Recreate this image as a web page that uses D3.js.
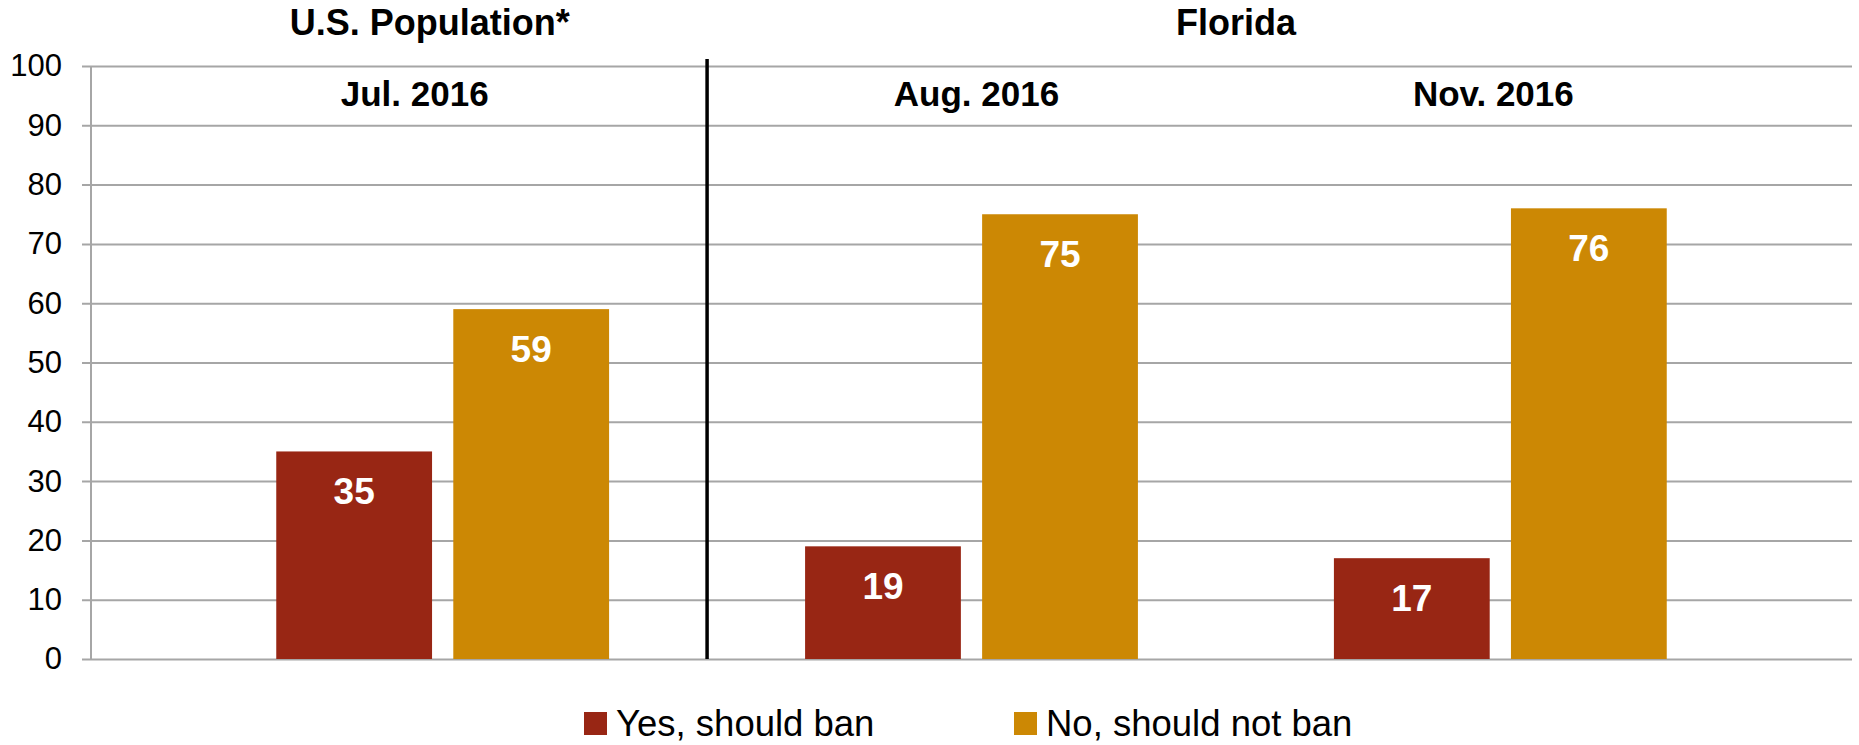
<!DOCTYPE html>
<html>
<head>
<meta charset="utf-8">
<script src="https://cdn.jsdelivr.net/npm/d3@7"></script>
<style>
  body { margin: 0; background: #fff; }
  text { font-family: "Liberation Sans", Arial, sans-serif; }
  .tick text { font-size: 31px; fill: #000; }
  .title { font-size: 36px; font-weight: bold; text-anchor: middle; }
  .catLabel { font-size: 35px; font-weight: bold; text-anchor: middle; }
  .valueLabel { font-size: 37px; font-weight: bold; fill: #fff; text-anchor: middle; }
  .legend text { font-size: 36.5px; }
</style>
</head>
<body>
<div id="chart"></div>
<script>
const categories = ["Jul. 2016", "Aug. 2016", "Nov. 2016"];
const series = ["Yes, should ban", "No, should not ban"];
const yesValues = [35, 19, 17];
const noValues = [59, 75, 76];
const yTicks = [0, 10, 20, 30, 40, 50, 60, 70, 80, 90, 100];
const groupTitles = ["U.S. Population*", "Florida"];

const width = 1859;
const height = 745;
const colours = ["#982614", "#cc8804"];

const margin = { top: 66, right: 7, bottom: 86, left: 91 };

const svg = d3.select("#chart").append("svg")
   .attr("width", width)
   .attr("height", height);

const x0 = d3.scaleBand()
   .domain(categories)
   .range([margin.left, width - margin.right])
   .paddingInner(0)
   .paddingOuter(0.165);

const groupPad = 98;
const x1 = d3.scaleBand()
   .domain(series)
   .range([groupPad, x0.bandwidth() - groupPad])
   .paddingInner(0.12);

const y = d3.scaleLinear()
   .domain([0, 100])
   .range([height - margin.bottom, margin.top]);

// gridlines + ticks
const yAxis = d3.axisLeft(y)
   .tickValues(yTicks)
   .tickSize(-(width - margin.left - margin.right))
   .tickPadding(29);

const gAxis = svg.append("g")
   .attr("class", "axis")
   .attr("transform", `translate(${margin.left},0)`)
   .call(yAxis);

gAxis.select(".domain").remove();
gAxis.selectAll(".tick line")
   .attr("x1", -9)
   .attr("stroke", "#a6a6a6")
   .attr("stroke-width", 2);

svg.append("line")
   .attr("x1", margin.left).attr("x2", margin.left)
   .attr("y1", y(100)).attr("y2", y(0))
   .attr("stroke", "#a6a6a6")
   .attr("stroke-width", 2);

// bars
const rows = categories.map((c, i) => ({
   cat: c,
   values: [
      { key: series[0], value: yesValues[i] },
      { key: series[1], value: noValues[i] }
   ]
}));

const groups = svg.selectAll("g.group")
   .data(rows)
   .enter()
   .append("g")
   .attr("class", "group")
   .attr("transform", d => `translate(${x0(d.cat)},0)`);

groups.selectAll("rect")
   .data(d => d.values)
   .enter()
   .append("rect")
   .attr("x", d => x1(d.key))
   .attr("y", d => y(d.value))
   .attr("width", x1.bandwidth())
   .attr("height", d => y(0) - y(d.value))
   .attr("fill", (d, i) => colours[i]);

groups.selectAll("text.valueLabel")
   .data(d => d.values)
   .enter()
   .append("text")
   .attr("class", "valueLabel")
   .attr("x", d => x1(d.key) + x1.bandwidth() / 2)
   .attr("y", d => y(d.value) + 53)
   .text(d => d.value);

// divider between U.S. and Florida
svg.append("line")
   .attr("x1", x0(categories[1])).attr("x2", x0(categories[1]))
   .attr("y1", y(100) - 7).attr("y2", y(0))
   .attr("stroke", "#000")
   .attr("stroke-width", 3.5);

// category labels
const labelNudge = [-28, 5, -7];
svg.selectAll("text.catLabel")
   .data(categories)
   .enter()
   .append("text")
   .attr("class", "catLabel")
   .attr("x", (d, i) => x0(d) + x0.bandwidth() / 2 + labelNudge[i])
   .attr("y", 106)
   .text(d => d);

// group titles
svg.append("text")
   .attr("class", "title")
   .attr("x", x0(categories[0]) + x0.bandwidth() / 2 - 13)
   .attr("y", 35)
   .text(groupTitles[0]);

svg.append("text")
   .attr("class", "title")
   .attr("x", x0(categories[2]))
   .attr("y", 35)
   .text(groupTitles[1]);

// legend
const legendX = [584, 1014];
const legend = svg.append("g").attr("class", "legend");

const items = legend.selectAll("g")
   .data(series)
   .enter()
   .append("g")
   .attr("transform", (d, i) => `translate(${legendX[i]},${y(0) + 53})`);

items.append("rect")
   .attr("width", 23)
   .attr("height", 23)
   .attr("fill", (d, i) => colours[i]);

items.append("text")
   .attr("x", 32)
   .attr("y", 24)
   .text(d => d);
</script>
</body>
</html>
